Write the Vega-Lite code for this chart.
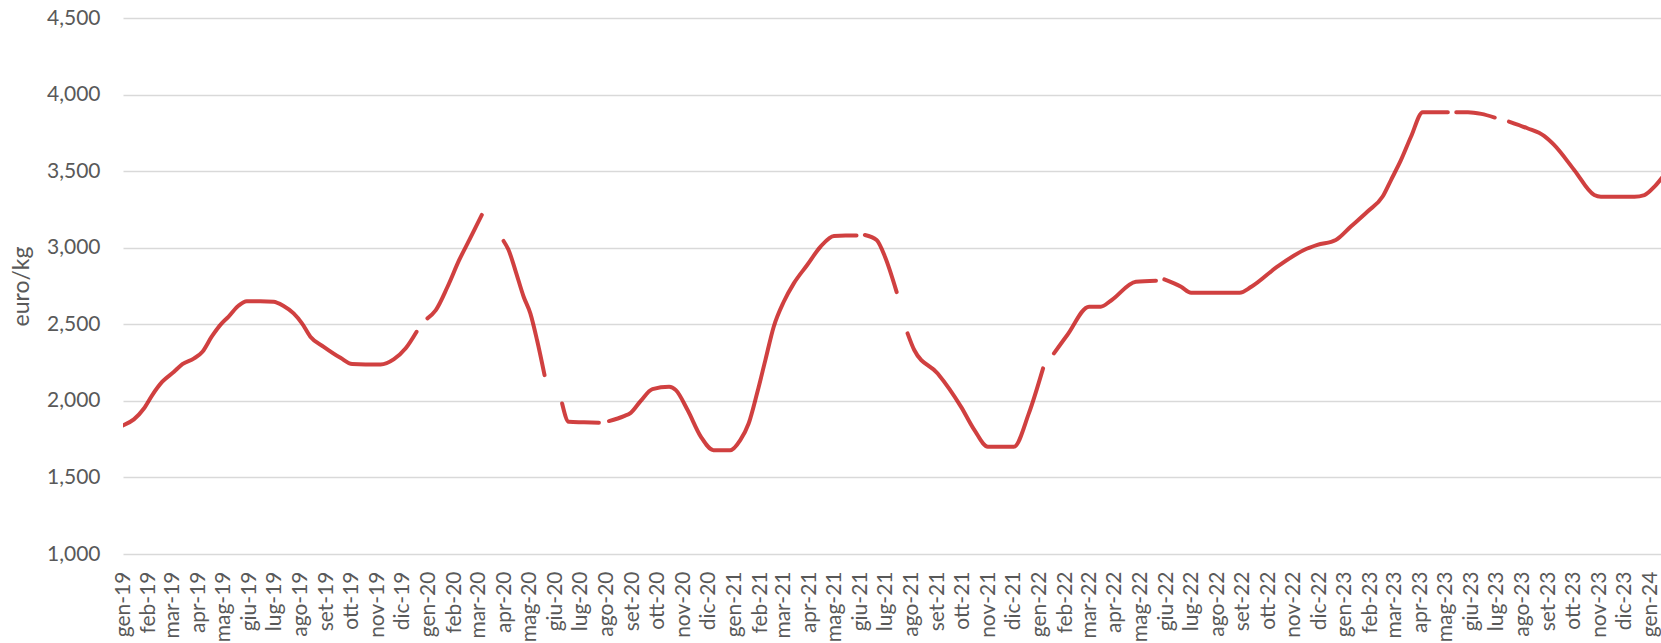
{
  "$schema": "https://vega.github.io/schema/vega-lite/v6.json",
  "autosize": {"type": "none"},
  "width": 1539,
  "height": 536,
  "padding": {"left": 123, "top": 18, "right": 0, "bottom": 89},
  "background": "white",
  "config": {
    "view": {"stroke": null},
    "font": "Lato"
  },
  "data": {
    "values": [
      {"d": "2019-01-01", "v": 1840},
      {"d": "2019-01-14", "v": 1879},
      {"d": "2019-01-26", "v": 1950},
      {"d": "2019-02-05", "v": 2038},
      {"d": "2019-02-17", "v": 2125},
      {"d": "2019-03-03", "v": 2190},
      {"d": "2019-03-13", "v": 2240},
      {"d": "2019-03-27", "v": 2277},
      {"d": "2019-04-06", "v": 2321},
      {"d": "2019-04-17", "v": 2419},
      {"d": "2019-04-29", "v": 2506},
      {"d": "2019-05-07", "v": 2549},
      {"d": "2019-05-19", "v": 2621},
      {"d": "2019-05-29", "v": 2650},
      {"d": "2019-06-14", "v": 2650},
      {"d": "2019-06-30", "v": 2647},
      {"d": "2019-07-12", "v": 2619},
      {"d": "2019-07-24", "v": 2571},
      {"d": "2019-08-03", "v": 2506},
      {"d": "2019-08-13", "v": 2419},
      {"d": "2019-08-29", "v": 2353},
      {"d": "2019-09-18", "v": 2281},
      {"d": "2019-10-02", "v": 2240},
      {"d": "2019-10-18", "v": 2238},
      {"d": "2019-11-05", "v": 2238},
      {"d": "2019-11-21", "v": 2273},
      {"d": "2019-12-05", "v": 2343},
      {"d": "2019-12-18", "v": 2451},
      {"d": "2019-12-25", "v": null},
      {"d": "2019-12-31", "v": 2539},
      {"d": "2020-01-10", "v": 2593},
      {"d": "2020-01-24", "v": 2745},
      {"d": "2020-02-07", "v": 2920},
      {"d": "2020-02-20", "v": 3061},
      {"d": "2020-03-05", "v": 3214},
      {"d": "2020-03-20", "v": null},
      {"d": "2020-03-31", "v": 3044},
      {"d": "2020-04-06", "v": 2985},
      {"d": "2020-04-14", "v": 2854},
      {"d": "2020-04-24", "v": 2680},
      {"d": "2020-05-02", "v": 2571},
      {"d": "2020-05-10", "v": 2397},
      {"d": "2020-05-19", "v": 2168},
      {"d": "2020-05-27", "v": null},
      {"d": "2020-06-09", "v": 1983},
      {"d": "2020-06-17", "v": 1863},
      {"d": "2020-07-05", "v": 1860},
      {"d": "2020-07-23", "v": 1857},
      {"d": "2020-07-28", "v": null},
      {"d": "2020-08-04", "v": 1868},
      {"d": "2020-08-22", "v": 1900},
      {"d": "2020-08-30", "v": 1922},
      {"d": "2020-09-11", "v": 2000},
      {"d": "2020-09-25", "v": 2077},
      {"d": "2020-10-15", "v": 2092},
      {"d": "2020-10-23", "v": 2070},
      {"d": "2020-11-06", "v": 1940},
      {"d": "2020-11-22", "v": 1765},
      {"d": "2020-12-07", "v": 1678},
      {"d": "2020-12-27", "v": 1678},
      {"d": "2021-01-08", "v": 1744},
      {"d": "2021-01-18", "v": 1852},
      {"d": "2021-01-28", "v": 2048},
      {"d": "2021-02-07", "v": 2266},
      {"d": "2021-02-17", "v": 2484},
      {"d": "2021-03-01", "v": 2647},
      {"d": "2021-03-13", "v": 2767},
      {"d": "2021-03-29", "v": 2887},
      {"d": "2021-04-14", "v": 3007},
      {"d": "2021-04-30", "v": 3077},
      {"d": "2021-05-14", "v": 3079},
      {"d": "2021-05-27", "v": 3079},
      {"d": "2021-06-01", "v": null},
      {"d": "2021-06-06", "v": 3083},
      {"d": "2021-06-20", "v": 3050},
      {"d": "2021-06-30", "v": 2941},
      {"d": "2021-07-14", "v": 2710},
      {"d": "2021-07-20", "v": null},
      {"d": "2021-07-27", "v": 2441},
      {"d": "2021-08-04", "v": 2332},
      {"d": "2021-09-01", "v": 2179},
      {"d": "2021-09-29", "v": 1961},
      {"d": "2021-10-15", "v": 1809},
      {"d": "2021-10-31", "v": 1700},
      {"d": "2021-11-16", "v": 1700},
      {"d": "2021-12-01", "v": 1700},
      {"d": "2021-12-19", "v": 1918},
      {"d": "2022-01-05", "v": 2212},
      {"d": "2022-01-10", "v": null},
      {"d": "2022-01-18", "v": 2310},
      {"d": "2022-02-03", "v": 2430},
      {"d": "2022-03-01", "v": 2615},
      {"d": "2022-03-15", "v": 2615},
      {"d": "2022-03-27", "v": 2654},
      {"d": "2022-04-26", "v": 2778},
      {"d": "2022-05-20", "v": 2785},
      {"d": "2022-05-26", "v": null},
      {"d": "2022-05-30", "v": 2793},
      {"d": "2022-06-19", "v": 2745},
      {"d": "2022-07-01", "v": 2706},
      {"d": "2022-07-30", "v": 2706},
      {"d": "2022-08-28", "v": 2706},
      {"d": "2022-09-11", "v": 2745},
      {"d": "2022-10-12", "v": 2876},
      {"d": "2022-11-13", "v": 2985},
      {"d": "2022-11-29", "v": 3018},
      {"d": "2022-12-21", "v": 3050},
      {"d": "2023-01-08", "v": 3138},
      {"d": "2023-01-28", "v": 3236},
      {"d": "2023-02-15", "v": 3334},
      {"d": "2023-02-25", "v": 3442},
      {"d": "2023-03-09", "v": 3573},
      {"d": "2023-03-21", "v": 3726},
      {"d": "2023-04-04", "v": 3885},
      {"d": "2023-04-20", "v": 3885},
      {"d": "2023-05-04", "v": 3885},
      {"d": "2023-05-09", "v": null},
      {"d": "2023-05-14", "v": 3885},
      {"d": "2023-05-28", "v": 3885},
      {"d": "2023-06-13", "v": 3874},
      {"d": "2023-06-29", "v": 3850},
      {"d": "2023-07-06", "v": null},
      {"d": "2023-07-16", "v": 3824},
      {"d": "2023-08-07", "v": 3780},
      {"d": "2023-08-27", "v": 3730},
      {"d": "2023-09-08", "v": 3671},
      {"d": "2023-10-02", "v": 3508},
      {"d": "2023-10-26", "v": 3344},
      {"d": "2023-11-03", "v": 3333},
      {"d": "2023-11-23", "v": 3333},
      {"d": "2023-12-13", "v": 3333},
      {"d": "2023-12-25", "v": 3344},
      {"d": "2024-01-06", "v": 3399},
      {"d": "2024-01-16", "v": 3464}
    ]
  },
  "mark": {
    "type": "line",
    "color": "#C00000",
    "strokeOpacity": 0.75,
    "strokeWidth": 4,
    "strokeCap": "round",
    "strokeJoin": "round",
    "interpolate": "monotone",
    "clip": true
  },
  "encoding": {
    "x": {
      "field": "d",
      "type": "temporal",
      "scale": {
        "type": "utc",
        "domain": [
          {"year": 2019, "month": 1, "date": 1, "utc": true},
          {"year": 2024, "month": 1, "date": 15, "utc": true}
        ]
      },
      "axis": {
        "title": null,
        "grid": false,
        "domain": false,
        "ticks": false,
        "tickCount": {"interval": "month", "step": 1},
        "labelAngle": -90,
        "labelAlign": "right",
        "labelBaseline": "middle",
        "labelPadding": 17,
        "labelFontSize": 21,
        "labelColor": "#595959",
        "labelOverlap": false,
        "labelFlush": false,
        "labelBound": false,
        "labelExpr": "['gen','feb','mar','apr','mag','giu','lug','ago','set','ott','nov','dic'][utcmonth(datum.value)] + '-' + utcFormat(datum.value, '%y')"
      }
    },
    "y": {
      "field": "v",
      "type": "quantitative",
      "scale": {"domain": [1000, 4500], "nice": false, "zero": false},
      "axis": {
        "title": "euro/kg",
        "titleFontSize": 23,
        "titleFontWeight": "normal",
        "titleColor": "#595959",
        "titlePadding": 13,
        "values": [1000, 1500, 2000, 2500, 3000, 3500, 4000, 4500],
        "format": ",.0f",
        "labelFontSize": 21,
        "labelColor": "#595959",
        "labelPadding": 23,
        "domain": false,
        "ticks": false,
        "grid": true,
        "gridColor": "#d9d9d9",
        "gridWidth": 1.5
      }
    }
  }
}
